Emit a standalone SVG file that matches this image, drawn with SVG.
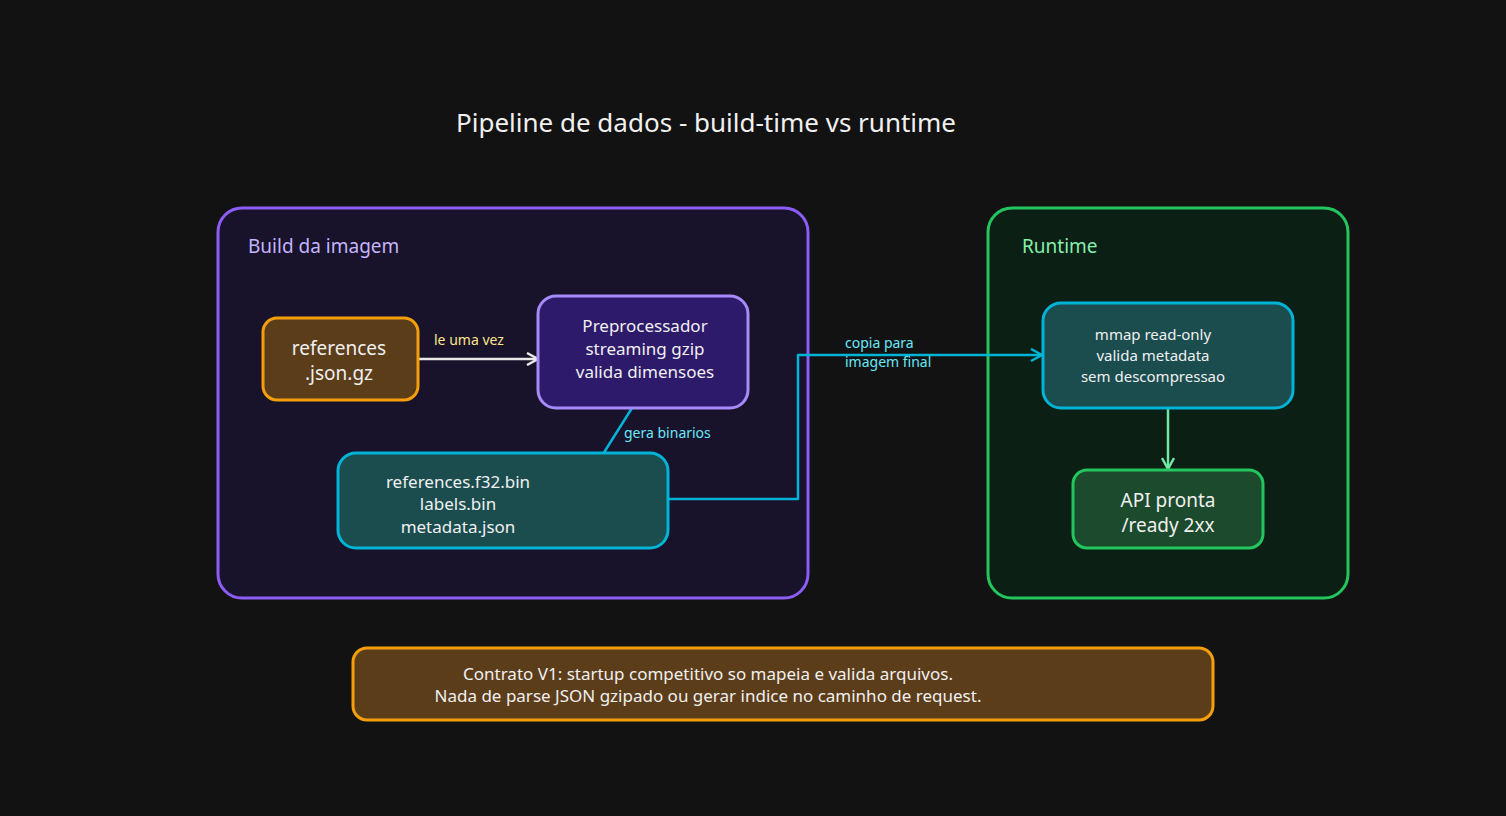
<svg xmlns="http://www.w3.org/2000/svg" width="1506" height="816" viewBox="0 0 1506 816">
<style>
text{font-family:"Noto Sans","Liberation Sans",sans-serif;fill:#f0f0f0;text-anchor:middle}
.n{stroke-width:3}
.c{fill:none;stroke-width:2.5;stroke-linejoin:round}
.lbl{font-size:14px;text-anchor:start}
</style>
<defs>
<marker id="aw" markerWidth="14" markerHeight="14" refX="12" refY="7" orient="auto" markerUnits="userSpaceOnUse"><path d="M1,1 L12,7 L1,13" fill="none" stroke="#e8e8e8" stroke-width="2.5"/></marker>
<marker id="ac" markerWidth="14" markerHeight="14" refX="12" refY="7" orient="auto" markerUnits="userSpaceOnUse"><path d="M1,1 L12,7 L1,13" fill="none" stroke="#00b4d8" stroke-width="2.5"/></marker>
<marker id="ag" markerWidth="14" markerHeight="14" refX="12" refY="7" orient="auto" markerUnits="userSpaceOnUse"><path d="M1,1 L12,7 L1,13" fill="none" stroke="#6ee7a0" stroke-width="2.5"/></marker>
</defs>
<rect width="1506" height="816" fill="#121212"/>
<text x="706" y="132" font-size="26">Pipeline de dados - build-time vs runtime</text>
<g id="build"><rect x="218" y="208" width="590" height="390" rx="24" fill="#18122a" stroke="#8b5cf6" class="n"/><text x="248" y="253" font-size="19" fill="#c4b5fd" style="fill:#c4b5fd;text-anchor:start">Build da imagem</text></g>
<g id="runtime"><rect x="988" y="208" width="360" height="390" rx="24" fill="#0b1f14" stroke="#22c55e" class="n"/><text x="1022" y="253" font-size="19" style="fill:#86efac;text-anchor:start">Runtime</text></g>
<g id="connectors">
<path class="c" d="M418,359 H538" stroke="#e8e8e8" marker-end="url(#aw)"/>
<text class="lbl" x="434" y="345" style="fill:#fde68a">le uma vez</text>
<path class="c" d="M632,408 L598,462 H498" stroke="#00b4d8" marker-end="url(#ac)"/>
<text class="lbl" x="624" y="438" style="fill:#67e8f9">gera binarios</text>
<path class="c" d="M668,499 H798 V355 H1042" stroke="#00b4d8" marker-end="url(#ac)"/>
<text class="lbl" x="845" y="348" style="fill:#67e8f9">copia para</text>
<text class="lbl" x="845" y="367" style="fill:#67e8f9">imagem final</text>
<path class="c" d="M1168,408 V469" stroke="#6ee7a0" marker-end="url(#ag)"/>
</g>
<g id="refs"><rect x="263" y="318" width="155" height="82" rx="14" fill="#5c3d1a" stroke="#f59e0b" class="n"/><text x="339" y="355" font-size="19">references</text><text x="339" y="380" font-size="19">.json.gz</text></g>
<g id="pre"><rect x="538" y="296" width="210" height="112" rx="18" fill="#2e1a6b" stroke="#a78bfa" class="n"/><text x="645" y="332" font-size="17">Preprocessador</text><text x="645" y="355" font-size="17">streaming gzip</text><text x="645" y="378" font-size="17">valida dimensoes</text></g>
<g id="bins"><rect x="338" y="453" width="330" height="95" rx="18" fill="#1b4d4f" stroke="#00b4d8" class="n"/><text x="458" y="488" font-size="17">references.f32.bin</text><text x="458" y="510" font-size="17">labels.bin</text><text x="458" y="533" font-size="17">metadata.json</text></g>
<g id="mmap"><rect x="1043" y="303" width="250" height="105" rx="18" fill="#1b4d4f" stroke="#00b4d8" class="n"/><text x="1153" y="340" font-size="15">mmap read-only</text><text x="1153" y="361" font-size="15">valida metadata</text><text x="1153" y="382" font-size="15">sem descompressao</text></g>
<g id="api"><rect x="1073" y="470" width="190" height="78" rx="14" fill="#1c4a2c" stroke="#22c55e" class="n"/><text x="1168" y="507" font-size="19">API pronta</text><text x="1168" y="532" font-size="19">/ready 2xx</text></g>
<g id="note"><rect x="353" y="648" width="860" height="72" rx="14" fill="#5c3d1a" stroke="#f59e0b" class="n"/><text x="708" y="680" font-size="17">Contrato V1: startup competitivo so mapeia e valida arquivos.</text><text x="708" y="702" font-size="17">Nada de parse JSON gzipado ou gerar indice no caminho de request.</text></g>
</svg>
